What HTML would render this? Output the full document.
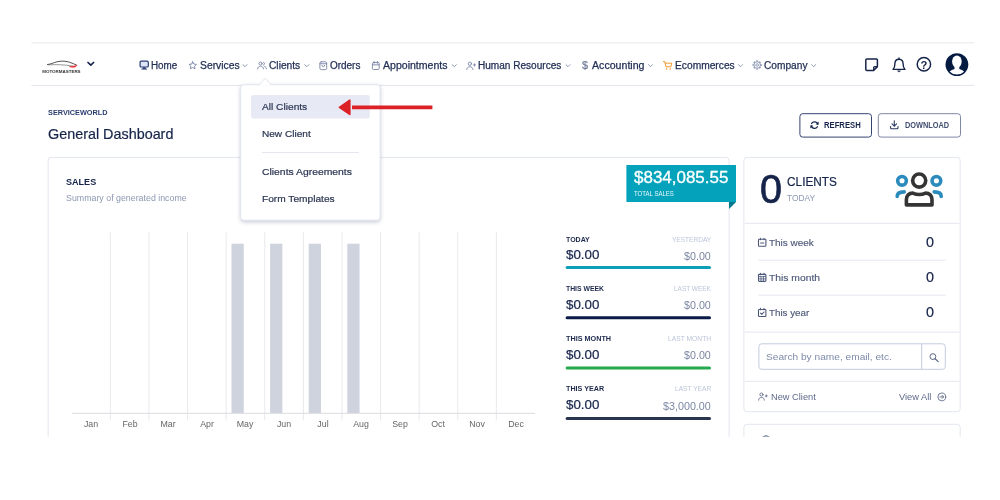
<!DOCTYPE html>
<html><head><meta charset="utf-8"><title>General Dashboard</title>
<style>
html,body{margin:0;padding:0;background:#fff;}
body{width:1000px;height:500px;overflow:hidden;position:relative;font-family:"Liberation Sans",sans-serif;}
#app{position:absolute;left:0;top:0;width:1000px;height:437px;overflow:hidden;background:#fff;}
.t{position:absolute;white-space:nowrap;line-height:1;}
svg{position:absolute;left:0;top:0;overflow:hidden;}
.chev{fill:none;stroke:#8c97b2;stroke-width:1;stroke-linecap:round;stroke-linejoin:round;}
.ic{fill:none;stroke:#7a86a6;stroke-width:1;stroke-linecap:round;stroke-linejoin:round;}
.ln{stroke:#e4e7f0;stroke-width:1;fill:none;}
.card{fill:#fff;stroke:#e3e6f0;stroke-width:1;}
</style></head><body>
<div id="app">
<svg width="1000" height="437" viewBox="0 0 1000 437">
<defs>
  <clipPath id="av"><circle cx="11.4" cy="11.4" r="10"/></clipPath>
  <clipPath id="page"><rect x="31.2" y="0" width="943.3" height="436.8"/></clipPath>
  <filter id="sh" x="-20%" y="-20%" width="140%" height="150%"><feGaussianBlur stdDeviation="2.2"/></filter>
</defs>
<g clip-path="url(#page)">
<!-- header rules -->
<path d="M31.2 42.9 H974.5" stroke="#e9e9ec" stroke-width="1" fill="none"/>
<path d="M31.2 85.4 H974.5" stroke="#e1e4ef" stroke-width="1" fill="none"/>

<!-- logo -->
<g transform="translate(42,59)">
  <path d="M5 5.7 C10.5 4.9 14 2.2 20 2.1 C25.5 2 30 4 34.7 6.2" fill="none" stroke="#2a2a2a" stroke-width="0.8"/>
  <path d="M6.3 5.9 C14 5.4 23 5.6 31 7.2" fill="none" stroke="#444" stroke-width="0.55"/>
  <path d="M27.4 7.5 C30.4 7.5 33 6.9 34.9 5.9 C34.5 8 31 9.3 27.4 7.5Z" fill="#e8242b" stroke="#e8242b" stroke-width="0.5"/>
  <text x="19.4" y="14.1" font-family="Liberation Sans, sans-serif" font-size="4.2" font-weight="700" fill="#333" text-anchor="middle" textLength="38.4" lengthAdjust="spacingAndGlyphs">MOTORMASTERS</text>
</g>
<path d="M88 62.5 L90.8 65.2 L93.6 62.5" fill="none" stroke="#16244a" stroke-width="1.7" stroke-linecap="round" stroke-linejoin="round"/>

<!-- nav icons -->
<g transform="translate(139.5,60.6)"><rect x="0.6" y="0.6" width="8.2" height="5.8" rx="1" fill="#dfe6f7" stroke="#2a3d73" stroke-width="1.2"/><path d="M3.4 6.6 L3 8.3 H6.4 L6 6.6Z" fill="#2a3d73"/><path d="M2.2 8.5 H7.2" stroke="#2a3d73" stroke-width="0.9" stroke-linecap="round"/></g>
<g transform="translate(188,60.8) scale(0.3917,0.3833)"><path class="ic" style="stroke-width:2.4" d="M12 2.5 l2.95 6 6.6 .95 -4.78 4.65 1.13 6.57 L12 17.55 6.1 20.67 7.23 14.1 2.45 9.45 l6.6 -.95z"/></g>
<g transform="translate(257,61.2) scale(0.42,0.395)"><g class="ic" style="stroke-width:2.2"><circle cx="8.5" cy="6" r="3.8"/><path d="M1.5 19.5 c0-4.2 3-6.6 7-6.6 s7 2.4 7 6.6"/><path d="M15.5 2.6 a3.7 3.7 0 0 1 0 7"/><path d="M18.2 13.4 c2.6 .8 4.3 2.9 4.3 6.1"/></g></g>
<g transform="translate(319.3,61) scale(0.4,0.3917)"><g class="ic" style="stroke-width:2.3"><rect x="1.5" y="2" width="17" height="20" rx="3.5"/><path d="M1.5 7 H18.5"/><path d="M6.5 11 a3.5 3.5 0 0 0 7 0"/></g></g>
<g transform="translate(371.8,60.9) scale(0.4,0.3917)"><g class="ic" style="stroke-width:2.3"><rect x="1.5" y="4" width="17" height="18" rx="3"/><path d="M1.5 10 H18.5"/><path d="M6 1.5 V6"/><path d="M14 1.5 V6"/></g></g>
<g transform="translate(466.2,61.2) scale(0.3846,0.3913)"><g class="ic" style="stroke-width:2.3"><circle cx="9.5" cy="6.5" r="4.2"/><path d="M1.5 21.5 c0-4.8 3.4-7.4 8-7.4 s8 2.6 8 7.4"/><path d="M21.5 6.5 V12.5"/><path d="M18.5 9.5 H24.5"/></g></g>
<g transform="translate(662.8,60.8) scale(0.4,0.4)"><g fill="none" stroke="#f0901e" stroke-width="2.3" stroke-linecap="round" stroke-linejoin="round"><path d="M1.5 2 H5 L8 15 H20 L22.5 6 H6.3"/></g><circle cx="9.5" cy="20.5" r="1.9" fill="#f0901e"/><circle cx="18.5" cy="20.5" r="1.9" fill="#f0901e"/></g>
<g fill="none" stroke="#7a86a6"><circle cx="757.15" cy="65" r="3.3" stroke-width="0.9"/><path d="M760.85 65 L761.65 65 M759.77 67.62 L760.33 68.18 M757.15 68.7 L757.15 69.5 M754.53 67.62 L753.97 68.18 M753.45 65 L752.65 65 M754.53 62.38 L753.97 61.82 M757.15 61.3 L757.15 60.5 M759.77 62.38 L760.33 61.82 " stroke-width="1.9"/><circle cx="757.15" cy="65" r="1.3" stroke-width="0.8"/></g>
<!-- nav chevrons -->
<path class="chev" d="M243.0 64.7 L245.0 66.7 L247.0 64.7"/><path class="chev" d="M304.8 64.7 L306.8 66.7 L308.8 64.7"/><path class="chev" d="M452.3 64.7 L454.3 66.7 L456.3 64.7"/><path class="chev" d="M566.0 64.7 L568.0 66.7 L570.0 64.7"/><path class="chev" d="M648.5 64.7 L650.5 66.7 L652.5 64.7"/><path class="chev" d="M738.5 64.7 L740.5 66.7 L742.5 64.7"/><path class="chev" d="M811.7 64.7 L813.7 66.7 L815.7 64.7"/>

<!-- right icons -->
<g fill="none" stroke="#16244a" stroke-linejoin="round">
  <path d="M866.9 58.9 H876.3 a1.1 1.1 0 0 1 1.1 1.1 V66.6 L873.6 70.4 H866.9 a1.1 1.1 0 0 1 -1.1 -1.1 V60 a1.1 1.1 0 0 1 1.1 -1.1Z" stroke-width="1.5"/>
  <path d="M873.7 70.2 V67.6 a0.9 0.9 0 0 1 0.9 -0.9 H877.2" stroke-width="1.3"/>
</g>
<g fill="none" stroke="#16244a" stroke-linejoin="round" stroke-linecap="round">
  <path d="M899 59.2 C896.2 59.2 894.9 61.3 894.9 63.8 C894.9 66.6 894.3 68.2 893 69.4 H905 C903.7 68.2 903.1 66.6 903.1 63.8 C903.1 61.3 901.8 59.2 899 59.2Z" stroke-width="1.4"/>
  <path d="M899 57.9 V59.2" stroke-width="1.4"/>
</g>
<path d="M897.5 70.7 a1.55 1.55 0 0 0 3 0Z" fill="#16244a" stroke="#16244a" stroke-width="0.4"/>
<circle cx="923.9" cy="64.2" r="6.7" fill="none" stroke="#16244a" stroke-width="1.5"/>
<text x="923.9" y="68.8" font-family="Liberation Sans, sans-serif" font-size="11.2" font-weight="700" fill="#16244a" text-anchor="middle">?</text>
<g transform="translate(945.5,53.2)"><circle cx="11.4" cy="11.4" r="11.4" fill="#051a40"/><g clip-path="url(#av)" fill="#fff"><ellipse cx="11.4" cy="8.4" rx="4.8" ry="6.1"/><path d="M2.6 22 C3 17.8 6.2 16.7 9 15.7 V12.5 H13.8 V15.7 C16.6 16.7 19.8 17.8 20.2 22Z"/></g></g>

<!-- buttons -->
<rect x="799.9" y="113.7" width="71.6" height="23.4" rx="2.8" fill="#fff" stroke="#34446f" stroke-width="1"/>
<rect x="878.3" y="113.7" width="82.2" height="23.4" rx="2.8" fill="#fff" stroke="#7d88a6" stroke-width="1"/>
<g transform="translate(810,120.6)"><g fill="none" stroke="#16244a" stroke-width="1.3" stroke-linecap="round" stroke-linejoin="round"><path d="M7.8 3.6 A3.4 3.4 0 0 0 1.6 2.9"/><path d="M1.2 5.4 A3.4 3.4 0 0 0 7.4 6.1"/></g><path d="M8.6 1 V4 H5.6Z" fill="#16244a"/><path d="M0.4 8 V5 H3.4Z" fill="#16244a"/></g>
<g transform="translate(890,120.2)"><g fill="none" stroke="#2c3a63" stroke-width="1.1" stroke-linecap="round" stroke-linejoin="round"><path d="M4.3 0.6 V5.8"/><path d="M2 3.7 L4.3 6 L6.6 3.7"/><path d="M0.6 6.4 V7.6 a1 1 0 0 0 1 1 H7 a1 1 0 0 0 1 -1 V6.4"/></g></g>

<!-- sales card -->
<rect class="card" x="48.2" y="157.4" width="680.9" height="300" rx="3"/>
<g stroke="#e9e9ec" stroke-width="1" fill="none">
<path d="M110.35 232.3 V420.5"/>
<path d="M148.95 232.3 V420.5"/>
<path d="M187.55 232.3 V420.5"/>
<path d="M226.15 232.3 V420.5"/>
<path d="M264.75 232.3 V420.5"/>
<path d="M303.35 232.3 V420.5"/>
<path d="M341.95 232.3 V420.5"/>
<path d="M380.55 232.3 V420.5"/>
<path d="M419.15 232.3 V420.5"/>
<path d="M457.75 232.3 V420.5"/>
<path d="M496.35 232.3 V420.5"/>
</g>
<g fill="#cfd3de"><rect x="231.5" y="243.7" width="12.25" height="169.6"/>
<rect x="270.1" y="243.7" width="12.25" height="169.6"/>
<rect x="308.7" y="243.7" width="12.25" height="169.6"/>
<rect x="347.3" y="243.7" width="12.25" height="169.6"/></g>
<path d="M71.75 413.3 H535" stroke="#dcdde2" stroke-width="1" fill="none"/>
<!-- ribbon -->
<rect x="626.4" y="165" width="109.6" height="37" fill="#05a3bb"/>
<path d="M729 202 H736 L729 209Z" fill="#04788c"/>
<!-- stat bars -->
<rect x="565.6" y="266" width="145.4" height="3" rx="1.5" fill="#0d9fb8"/>
<rect x="565.6" y="316.2" width="145.4" height="3" rx="1.5" fill="#0b1b48"/>
<rect x="565.6" y="366.6" width="145.4" height="3" rx="1.5" fill="#25a94f"/>
<rect x="565.6" y="416.9" width="145.4" height="3" rx="1.5" fill="#29344f"/>

<!-- clients card -->
<rect class="card" x="743.9" y="157.4" width="216.3" height="254.3" rx="3"/>
<path class="ln" d="M744.8 223.3 H959.7"/>
<path class="ln" d="M758.4 260.2 H945.8"/>
<path class="ln" d="M758.4 295.2 H945.8"/>
<path class="ln" d="M744.8 332.1 H959.7"/>
<path class="ln" d="M744.8 381.3 H959.7"/>
<rect class="card" x="743.9" y="424.3" width="216.3" height="60" rx="3"/>
<circle cx="766" cy="440.5" r="4.5" fill="none" stroke="#6a7696" stroke-width="1.3"/>
<!-- clients big icon -->
<g fill="none" stroke-linecap="round" stroke-linejoin="round" stroke-width="3.6">
  <circle cx="902" cy="180.8" r="4.35" stroke="#2b8bbd"/>
  <circle cx="936.4" cy="180.8" r="4.35" stroke="#2b8bbd"/>
  <path d="M897.2 196.4 C897.2 193.4 899.4 191.9 904.2 191.9" stroke="#2b8bbd"/>
  <path d="M941.2 196.4 C941.2 193.4 939 191.9 934.2 191.9" stroke="#2b8bbd"/>
  <circle cx="919.2" cy="180.6" r="6.55" stroke="#343434"/>
  <path d="M906.4 204.9 V199.6 C906.4 195.6 909 193.1 912.8 193.1 C917 194.9 921.4 194.9 925.6 193.1 C929.4 193.1 932 195.6 932 199.6 V204.9 Z" stroke="#343434"/>
</g>
<!-- small calendar icons -->
<g transform="translate(757.8,237.6)" fill="none" stroke="#4d5879" stroke-width="1.1" stroke-linejoin="round" stroke-linecap="round"><rect x="0.7" y="1.7" width="7.4" height="7" rx="0.8"/><path d="M2.6 0.6 V2 M6.2 0.6 V2"/><path d="M2.8 5.4 H6" /></g>
<g transform="translate(757.8,272.7)" fill="none" stroke="#4d5879" stroke-width="1.1" stroke-linejoin="round" stroke-linecap="round"><rect x="0.7" y="1.7" width="7.4" height="7" rx="0.8"/><path d="M2.6 0.6 V2 M6.2 0.6 V2"/><path d="M1 3.9 H7.8 M1 6.2 H7.8 M3.2 3.9 V8.5 M5.6 3.9 V8.5" stroke-width="0.8"/></g>
<g transform="translate(757.8,307.8)" fill="none" stroke="#4d5879" stroke-width="1.1" stroke-linejoin="round" stroke-linecap="round"><rect x="0.7" y="1.7" width="7.4" height="7" rx="0.8"/><path d="M2.6 0.6 V2 M6.2 0.6 V2"/><path d="M2.8 5.4 L4 6.6 L6.2 4.2" /></g>
<!-- search -->
<rect x="758.9" y="343.8" width="186.4" height="25.5" rx="2.8" fill="#fff" stroke="#c3cbe0" stroke-width="1"/>
<path d="M921.7 343.8 V369.3" stroke="#c3cbe0" stroke-width="1" fill="none"/>
<g transform="translate(929,352.8)"><circle cx="3.9" cy="3.8" r="2.9" fill="none" stroke="#5a6585" stroke-width="1"/><path d="M6.1 6 L9.2 8.8" stroke="#5a6585" stroke-width="1.2" stroke-linecap="round"/></g>
<!-- footer icons -->
<g transform="translate(758,392.2) scale(0.3846,0.3909)"><g fill="none" stroke="#5f6a8a" stroke-width="2.2" stroke-linecap="round" stroke-linejoin="round"><circle cx="9" cy="6" r="4"/><path d="M1.5 20.5 c0-4.6 3.2-7 7.5-7 s7.5 2.4 7.5 7"/><path d="M21.5 7 V12 M19 9.5 H24"/></g></g>
<g transform="translate(937.3,392.4)"><g fill="none" stroke="#5f6a8a" stroke-width="0.9" stroke-linecap="round" stroke-linejoin="round"><circle cx="4.5" cy="4.5" r="3.9"/><path d="M2.6 4.5 H6.3 M4.8 2.9 L6.4 4.5 L4.8 6.1"/></g></g>

<!-- dropdown -->
<rect x="240.7" y="86.3" width="139.4" height="135.4" rx="3" fill="#28325a" opacity="0.3" filter="url(#sh)"/>
<rect x="240.7" y="84.8" width="139.4" height="135.4" rx="3" fill="#fff" stroke="#e3e6f0" stroke-width="1"/>
<path d="M259.2 85.4 L265.2 78.3 L271.2 85.4Z" fill="#fff"/>
<path d="M259.2 84.8 L265.2 78.1 L271.2 84.8" fill="none" stroke="#e3e6f0" stroke-width="1" stroke-linejoin="round"/>
<rect x="251" y="95" width="118.8" height="23.5" rx="2.5" fill="#e7eaf4"/>
<path class="ln" d="M262 152.5 H359"/>
<!-- red arrow -->
<path d="M352 107.3 H432.4" stroke="#dc2127" stroke-width="3.7" fill="none"/>
<path d="M339.4 107.3 L349.8 100.2 V114.4 Z" fill="#dc2127" stroke="#dc2127" stroke-width="1.6" stroke-linejoin="round"/>
</g>
</svg>
<span class="t" id="t0" style="top:61.00px;font-size:10px;font-weight:400;color:#1f2d52;left:151.30px;transform:scaleX(0.9855);transform-origin:0 0;-webkit-text-stroke:0.25px #1f2d52;">Home</span>
<span class="t" id="t1" style="top:61.00px;font-size:10px;font-weight:400;color:#1f2d52;left:199.50px;transform:scaleX(1.0349);transform-origin:0 0;-webkit-text-stroke:0.25px #1f2d52;">Services</span>
<span class="t" id="t2" style="top:61.00px;font-size:10px;font-weight:400;color:#1f2d52;left:268.80px;transform:scaleX(1.0203);transform-origin:0 0;-webkit-text-stroke:0.25px #1f2d52;">Clients</span>
<span class="t" id="t3" style="top:61.00px;font-size:10px;font-weight:400;color:#1f2d52;left:330.00px;transform:scaleX(0.9947);transform-origin:0 0;-webkit-text-stroke:0.25px #1f2d52;">Orders</span>
<span class="t" id="t4" style="top:61.00px;font-size:10px;font-weight:400;color:#1f2d52;left:383.00px;transform:scaleX(1.0547);transform-origin:0 0;-webkit-text-stroke:0.25px #1f2d52;">Appointments</span>
<span class="t" id="t5" style="top:61.00px;font-size:10px;font-weight:400;color:#1f2d52;left:478.00px;transform:scaleX(1.0059);transform-origin:0 0;-webkit-text-stroke:0.25px #1f2d52;">Human Resources</span>
<span class="t" id="t6" style="top:61.00px;font-size:10px;font-weight:400;color:#1f2d52;left:591.80px;transform:scaleX(1.0609);transform-origin:0 0;-webkit-text-stroke:0.25px #1f2d52;">Accounting</span>
<span class="t" id="t7" style="top:61.00px;font-size:10px;font-weight:400;color:#1f2d52;left:674.50px;transform:scaleX(1.0230);transform-origin:0 0;-webkit-text-stroke:0.25px #1f2d52;">Ecommerces</span>
<span class="t" id="t8" style="top:61.00px;font-size:10px;font-weight:400;color:#1f2d52;left:763.80px;transform:scaleX(1.0161);transform-origin:0 0;-webkit-text-stroke:0.25px #1f2d52;">Company</span>
<span class="t" id="t9" style="top:61.00px;font-size:10px;font-weight:400;color:#6b7797;left:582.00px;transform:scaleX(1.0787);transform-origin:0 0;-webkit-text-stroke:0.2px #6b7797;">$</span>
<span class="t" id="t10" style="top:109.00px;font-size:7.9px;font-weight:700;color:#2a3d6e;left:47.90px;transform:scaleX(0.9267);transform-origin:0 0;">SERVICEWORLD</span>
<span class="t" id="t11" style="top:127.00px;font-size:14.6px;font-weight:400;color:#16244a;left:47.80px;transform:scaleX(0.9845);transform-origin:0 0;-webkit-text-stroke:0.2px #16244a;">General Dashboard</span>
<span class="t" id="t12" style="top:121.00px;font-size:8.4px;font-weight:700;color:#16244a;left:823.80px;transform:scaleX(0.9168);transform-origin:0 0;">REFRESH</span>
<span class="t" id="t13" style="top:121.00px;font-size:8.4px;font-weight:700;color:#434f73;left:905.00px;transform:scaleX(0.8796);transform-origin:0 0;">DOWNLOAD</span>
<span class="t" id="t14" style="top:102.00px;font-size:9.7px;font-weight:400;color:#2a3552;left:261.80px;transform:scaleX(1.0493);transform-origin:0 0;-webkit-text-stroke:0.2px #2a3552;">All Clients</span>
<span class="t" id="t15" style="top:129.00px;font-size:9.7px;font-weight:400;color:#2a3552;left:261.80px;transform:scaleX(1.0396);transform-origin:0 0;-webkit-text-stroke:0.2px #2a3552;">New Client</span>
<span class="t" id="t16" style="top:167.00px;font-size:9.7px;font-weight:400;color:#2a3552;left:261.80px;transform:scaleX(1.0702);transform-origin:0 0;-webkit-text-stroke:0.2px #2a3552;">Clients Agreements</span>
<span class="t" id="t17" style="top:194.00px;font-size:9.7px;font-weight:400;color:#2a3552;left:261.80px;transform:scaleX(1.0493);transform-origin:0 0;-webkit-text-stroke:0.2px #2a3552;">Form Templates</span>
<span class="t" id="t18" style="top:177.00px;font-size:9.7px;font-weight:700;color:#16244a;left:66.30px;transform:scaleX(0.9346);transform-origin:0 0;">SALES</span>
<span class="t" id="t19" style="top:194.00px;font-size:8.3px;font-weight:400;color:#8c97b2;left:66.30px;transform:scaleX(1.0639);transform-origin:0 0;">Summary of generated income</span>
<span class="t" id="t20" style="top:170.00px;font-size:15.8px;font-weight:400;color:#ffffff;left:633.60px;transform:scaleX(1.0744);transform-origin:0 0;-webkit-text-stroke:0.3px #ffffff;">$834,085.55</span>
<span class="t" id="t21" style="top:190.00px;font-size:7px;font-weight:400;color:#e8f7fa;left:633.60px;transform:scaleX(0.8642);transform-origin:0 0;">TOTAL SALES</span>
<span class="t" id="t22" style="top:236.00px;font-size:7px;font-weight:700;color:#1d2a4d;left:565.60px;transform:scaleX(1.0028);transform-origin:0 0;">TODAY</span>
<span class="t" id="t23" style="top:236.00px;font-size:7px;font-weight:400;color:#bcc5d9;left:671.60px;transform:scaleX(0.9358);transform-origin:0 0;">YESTERDAY</span>
<span class="t" id="t24" style="top:249.00px;font-size:12.6px;font-weight:400;color:#16244a;left:565.60px;transform:scaleX(1.0598);transform-origin:0 0;-webkit-text-stroke:0.2px #16244a;">$0.00</span>
<span class="t" id="t25" style="top:252.00px;font-size:10.3px;font-weight:400;color:#7b86a2;left:684.00px;transform:scaleX(1.0395);transform-origin:0 0;">$0.00</span>
<span class="t" id="t26" style="top:285.00px;font-size:7px;font-weight:700;color:#1d2a4d;left:565.60px;transform:scaleX(0.9771);transform-origin:0 0;">THIS WEEK</span>
<span class="t" id="t27" style="top:285.00px;font-size:7px;font-weight:400;color:#bcc5d9;left:674.00px;transform:scaleX(0.9211);transform-origin:0 0;">LAST WEEK</span>
<span class="t" id="t28" style="top:299.00px;font-size:12.6px;font-weight:400;color:#16244a;left:565.60px;transform:scaleX(1.0598);transform-origin:0 0;-webkit-text-stroke:0.2px #16244a;">$0.00</span>
<span class="t" id="t29" style="top:301.00px;font-size:10.3px;font-weight:400;color:#7b86a2;left:684.00px;transform:scaleX(1.0395);transform-origin:0 0;">$0.00</span>
<span class="t" id="t30" style="top:335.00px;font-size:7px;font-weight:700;color:#1d2a4d;left:565.60px;transform:scaleX(1.0353);transform-origin:0 0;">THIS MONTH</span>
<span class="t" id="t31" style="top:335.00px;font-size:7px;font-weight:400;color:#bcc5d9;left:667.70px;transform:scaleX(0.9578);transform-origin:0 0;">LAST MONTH</span>
<span class="t" id="t32" style="top:349.00px;font-size:12.6px;font-weight:400;color:#16244a;left:565.60px;transform:scaleX(1.0598);transform-origin:0 0;-webkit-text-stroke:0.2px #16244a;">$0.00</span>
<span class="t" id="t33" style="top:351.00px;font-size:10.3px;font-weight:400;color:#7b86a2;left:684.00px;transform:scaleX(1.0395);transform-origin:0 0;">$0.00</span>
<span class="t" id="t34" style="top:385.00px;font-size:7px;font-weight:700;color:#1d2a4d;left:565.60px;transform:scaleX(1.0264);transform-origin:0 0;">THIS YEAR</span>
<span class="t" id="t35" style="top:385.00px;font-size:7px;font-weight:400;color:#bcc5d9;left:674.60px;transform:scaleX(0.9460);transform-origin:0 0;">LAST YEAR</span>
<span class="t" id="t36" style="top:399.00px;font-size:12.6px;font-weight:400;color:#16244a;left:565.60px;transform:scaleX(1.0598);transform-origin:0 0;-webkit-text-stroke:0.2px #16244a;">$0.00</span>
<span class="t" id="t37" style="top:402.00px;font-size:10.3px;font-weight:400;color:#7b86a2;left:663.00px;transform:scaleX(1.0434);transform-origin:0 0;">$3,000.00</span>
<span class="t" id="t38" style="top:419.00px;font-size:9.4px;font-weight:400;color:#666666;left:61.05px;width:60px;text-align:center;transform:scaleX(0.94);">Jan</span>
<span class="t" id="t39" style="top:419.00px;font-size:9.4px;font-weight:400;color:#666666;left:99.65px;width:60px;text-align:center;transform:scaleX(0.94);">Feb</span>
<span class="t" id="t40" style="top:419.00px;font-size:9.4px;font-weight:400;color:#666666;left:138.25px;width:60px;text-align:center;transform:scaleX(0.94);">Mar</span>
<span class="t" id="t41" style="top:419.00px;font-size:9.4px;font-weight:400;color:#666666;left:176.85px;width:60px;text-align:center;transform:scaleX(0.94);">Apr</span>
<span class="t" id="t42" style="top:419.00px;font-size:9.4px;font-weight:400;color:#666666;left:215.45px;width:60px;text-align:center;transform:scaleX(0.94);">May</span>
<span class="t" id="t43" style="top:419.00px;font-size:9.4px;font-weight:400;color:#666666;left:254.05px;width:60px;text-align:center;transform:scaleX(0.94);">Jun</span>
<span class="t" id="t44" style="top:419.00px;font-size:9.4px;font-weight:400;color:#666666;left:292.65px;width:60px;text-align:center;transform:scaleX(0.94);">Jul</span>
<span class="t" id="t45" style="top:419.00px;font-size:9.4px;font-weight:400;color:#666666;left:331.25px;width:60px;text-align:center;transform:scaleX(0.94);">Aug</span>
<span class="t" id="t46" style="top:419.00px;font-size:9.4px;font-weight:400;color:#666666;left:369.85px;width:60px;text-align:center;transform:scaleX(0.94);">Sep</span>
<span class="t" id="t47" style="top:419.00px;font-size:9.4px;font-weight:400;color:#666666;left:408.45px;width:60px;text-align:center;transform:scaleX(0.94);">Oct</span>
<span class="t" id="t48" style="top:419.00px;font-size:9.4px;font-weight:400;color:#666666;left:447.05px;width:60px;text-align:center;transform:scaleX(0.94);">Nov</span>
<span class="t" id="t49" style="top:419.00px;font-size:9.4px;font-weight:400;color:#666666;left:485.65px;width:60px;text-align:center;transform:scaleX(0.94);">Dec</span>
<span class="t" id="t50" style="top:169.00px;font-size:40px;font-weight:400;color:#16244a;left:760.20px;transform:scaleX(0.9888);transform-origin:0 0;-webkit-text-stroke:0.7px #16244a;">0</span>
<span class="t" id="t51" style="top:176.00px;font-size:12px;font-weight:400;color:#16244a;left:786.80px;transform:scaleX(0.9864);transform-origin:0 0;-webkit-text-stroke:0.2px #16244a;">CLIENTS</span>
<span class="t" id="t52" style="top:194.00px;font-size:8.7px;font-weight:400;color:#8c97b2;left:786.80px;transform:scaleX(0.9682);transform-origin:0 0;">TODAY</span>
<span class="t" id="t53" style="top:238.00px;font-size:9.8px;font-weight:400;color:#4d5879;left:768.80px;transform:scaleX(1.0157);transform-origin:0 0;-webkit-text-stroke:0.15px #4d5879;">This week</span>
<span class="t" id="t54" style="top:235.00px;font-size:14.4px;font-weight:400;color:#16244a;left:926.00px;transform:scaleX(0.9981);transform-origin:0 0;-webkit-text-stroke:0.2px #16244a;">0</span>
<span class="t" id="t55" style="top:273.00px;font-size:9.8px;font-weight:400;color:#4d5879;left:768.80px;transform:scaleX(1.0522);transform-origin:0 0;-webkit-text-stroke:0.15px #4d5879;">This month</span>
<span class="t" id="t56" style="top:270.00px;font-size:14.4px;font-weight:400;color:#16244a;left:926.00px;transform:scaleX(0.9981);transform-origin:0 0;-webkit-text-stroke:0.2px #16244a;">0</span>
<span class="t" id="t57" style="top:308.00px;font-size:9.8px;font-weight:400;color:#4d5879;left:768.80px;transform:scaleX(0.9976);transform-origin:0 0;-webkit-text-stroke:0.15px #4d5879;">This year</span>
<span class="t" id="t58" style="top:305.00px;font-size:14.4px;font-weight:400;color:#16244a;left:926.00px;transform:scaleX(0.9981);transform-origin:0 0;-webkit-text-stroke:0.2px #16244a;">0</span>
<span class="t" id="t59" style="top:352.00px;font-size:9.9px;font-weight:400;color:#7e8aa8;left:766.00px;transform:scaleX(1.0277);transform-origin:0 0;">Search by name, email, etc.</span>
<span class="t" id="t60" style="top:392.00px;font-size:9.7px;font-weight:400;color:#5f6a8a;left:770.60px;transform:scaleX(0.9564);transform-origin:0 0;">New Client</span>
<span class="t" id="t61" style="top:392.00px;font-size:9.7px;font-weight:400;color:#5f6a8a;left:898.70px;transform:scaleX(0.9570);transform-origin:0 0;">View All</span>
</div>
</body></html>
